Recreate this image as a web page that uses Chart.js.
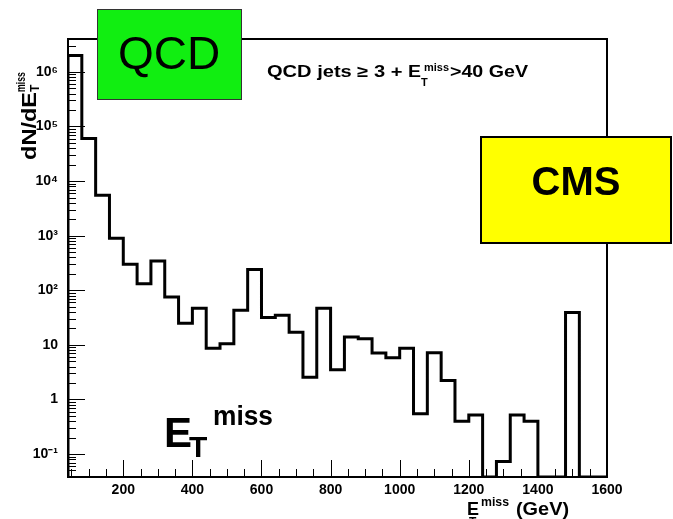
<!DOCTYPE html>
<html><head><meta charset="utf-8">
<script src="https://cdn.jsdelivr.net/npm/chart.js@4.4.0/dist/chart.umd.min.js"></script>
<style>html,body{margin:0;padding:0;background:#fff;}#wrap{width:673px;height:519px;position:relative;}</style>
</head><body><div id="wrap"><canvas id="c" width="673" height="519"></canvas></div>
<script>
// ---- data ----
const binEdges = [40,80,120,160,200,240,280,320,360,400,440,480,520,560,600,640,680,720,760,800,
  840,880,920,960,1000,1040,1080,1120,1160,1200,1240,1280,1320,1360,1400,1440,1480,1520,1560,1600];
const counts = [2.0e6, 6.0e4, 5.5e3, 900, 300, 132, 345, 75, 25, 47,
  8.7, 10.5, 43, 240, 31.6, 35, 17, 2.56, 47, 3.5,
  13.9, 12.9, 7.1, 5.8, 8.7, 0.55, 7.2, 2.23, 0.40, 0.52,
  0, 0.073, 0.52, 0.40, 0, 0, 39, 0, 0];
const xTickValues = [200,400,600,800,1000,1200,1400,1600];
const yTickValues = [0.1,1,10,100,1000,10000,100000,1000000];
const yTickLabels = ['10\u207B\u00B9','1','10','10\u00B2','10\u00B3','10\u2074','10\u2075','10\u2076'];
const xMin = 40, xMax = 1600, yMin = 0.038, yMax = 4.0e6;

const FONT = "'Liberation Sans', Arial, Helvetica, sans-serif";

const pts = [{x: binEdges[0], y: yMin}];
counts.forEach((c, i) => pts.push({x: binEdges[i], y: c > 0 ? c : yMin}));
pts.push({x: binEdges[binEdges.length - 1], y: yMin});

function txt(ctx, s, x, y, font, targetW) {
  ctx.font = font;
  const w = ctx.measureText(s).width;
  ctx.save();
  ctx.translate(x, y);
  if (targetW) ctx.scale(targetW / w, 1);
  ctx.fillText(s, 0, 0);
  ctx.restore();
}

const framePlugin = {
  id: 'frame',
  afterDatasetsDraw(chart) {
    const ctx = chart.ctx, a = chart.chartArea;
    const xs = chart.scales.x, ys = chart.scales.y;
    ctx.save();
    ctx.strokeStyle = '#000';
    ctx.lineWidth = 1;
    ctx.beginPath();
    for (let v = 50; v <= xMax; v += 50) {
      if (v < xMin) continue;
      const px = Math.round(xs.getPixelForValue(v)) + 0.5;
      const len = (v % 200 === 0) ? 17 : 8;
      ctx.moveTo(px, a.bottom); ctx.lineTo(px, a.bottom - len);
    }
    for (let d = -2; d <= 6; d++) {
      for (let k = 1; k <= 9; k++) {
        const v = k * Math.pow(10, d);
        if (v < yMin || v > yMax) continue;
        const py = Math.round(ys.getPixelForValue(v)) + 0.5;
        const len = (k === 1) ? 17 : 8;
        ctx.moveTo(a.left, py); ctx.lineTo(a.left + len, py);
      }
    }
    ctx.stroke();
    ctx.lineWidth = 2;
    ctx.strokeRect(a.left, a.top, a.right - a.left, a.bottom - a.top);
    ctx.restore();
  },
  afterDraw(chart) {
    const ctx = chart.ctx;
    ctx.save();
    ctx.fillStyle = '#000';
    ctx.textBaseline = 'alphabetic';
    ctx.textAlign = 'left';
    // title
    txt(ctx, 'QCD jets \u2265 3 + ', 267, 77, 'bold 16px ' + FONT, 141);
    txt(ctx, 'E', 408, 77, 'bold 16px ' + FONT, 13);
    txt(ctx, 'T', 421, 86, 'bold 11px ' + FONT);
    txt(ctx, 'miss', 424, 71, 'bold 11px ' + FONT, 25);
    txt(ctx, '>40 GeV', 450, 77, 'bold 16px ' + FONT, 78);
    // QCD box
    ctx.fillStyle = '#11ee11';
    ctx.fillRect(97, 9, 144, 90);
    ctx.strokeStyle = '#333';
    ctx.lineWidth = 1;
    ctx.strokeRect(97.5, 9.5, 144, 90);
    ctx.fillStyle = '#000';
    ctx.textAlign = 'center';
    ctx.font = '46px ' + FONT;
    ctx.fillText('QCD', 169, 69);
    // CMS box
    ctx.fillStyle = '#ffff00';
    ctx.fillRect(481, 137, 190, 106);
    ctx.strokeStyle = '#000';
    ctx.lineWidth = 2;
    ctx.strokeRect(481, 137, 190, 106);
    ctx.fillStyle = '#000';
    ctx.font = 'bold 40px ' + FONT;
    ctx.fillText('CMS', 576, 195);
    ctx.textAlign = 'left';
    // big E_T^miss
    txt(ctx, 'E', 164, 447, 'bold 42px ' + FONT);
    txt(ctx, 'T', 189, 457, 'bold 30px ' + FONT);
    txt(ctx, 'miss', 213, 425, 'bold 27px ' + FONT, 60);
    // x axis title
    txt(ctx, 'E', 467, 515, 'bold 18px ' + FONT);
    txt(ctx, 'T', 469, 526, 'bold 12px ' + FONT);
    txt(ctx, 'miss', 481, 506, 'bold 12px ' + FONT, 28);
    txt(ctx, '(GeV)', 516, 515, 'bold 18px ' + FONT, 53);
    // y axis title (rotated)
    ctx.save();
    ctx.translate(36, 160);
    ctx.rotate(-Math.PI / 2);
    txt(ctx, 'dN/dE', 0, 0, 'bold 21px ' + FONT, 68);
    txt(ctx, 'T', 68, 3, 'bold 12px ' + FONT);
    txt(ctx, 'miss', 68, -11, 'bold 12px ' + FONT, 20);
    ctx.restore();
    ctx.restore();
  }
};

new Chart(document.getElementById('c'), {
  type: 'line',
  data: {
    datasets: [{
      data: pts,
      stepped: 'before',
      borderColor: '#000',
      borderWidth: 3,
      pointRadius: 0,
      fill: false,
      borderJoinStyle: 'miter',
      borderCapStyle: 'butt'
    }]
  },
  options: {
    responsive: false,
    animation: false,
    devicePixelRatio: 1,
    layout: {padding: {top: 39, right: 66, left: 0, bottom: 0}},
    plugins: {legend: {display: false}, tooltip: {enabled: false}, title: {display: false}},
    scales: {
      x: {
        type: 'linear', min: xMin, max: xMax,
        grid: {display: false, drawTicks: false},
        border: {display: false},
        afterBuildTicks: s => { s.ticks = xTickValues.map(v => ({value: v})); },
        afterFit: s => { s.height = 42; },
        ticks: {font: {family: FONT, size: 14, weight: 'bold'}, color: '#000', padding: 5,
                maxRotation: 0, autoSkip: false, callback: v => String(v)}
      },
      y: {
        type: 'logarithmic', min: yMin, max: yMax,
        grid: {display: false, drawTicks: false},
        border: {display: false},
        afterBuildTicks: s => { s.ticks = yTickValues.map(v => ({value: v})); },
        afterFit: s => { s.width = 68; },
        ticks: {font: {family: FONT, size: 14, weight: 'bold'}, color: '#000', padding: 10,
                autoSkip: false, callback: v => { const i = yTickValues.indexOf(v); return i >= 0 ? yTickLabels[i] : ''; }}
      }
    }
  },
  plugins: [framePlugin]
});
</script>
</body></html>
